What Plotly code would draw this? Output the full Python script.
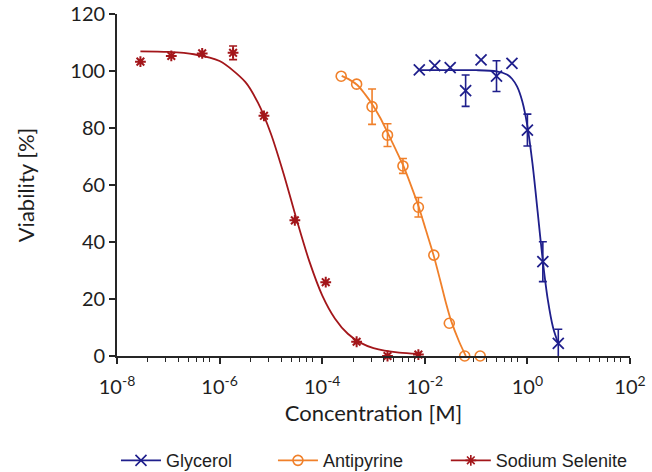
import plotly.graph_objects as go

# ---------------- data ----------------
glycerol_conc = [0.0078125, 0.015625, 0.03125, 0.0625, 0.125, 0.25, 0.5, 1.0, 2.0, 4.0]
glycerol_viab = [100.4, 101.9, 101.2, 93.1, 103.9, 98.2, 102.7, 79.3, 33.1, 4.4]
glycerol_err = [None, None, None, 5.5, None, 5.4, None, 5.6, 7.0, 5.0]

antipyrine_conc = [2.344e-4, 4.6875e-4, 9.375e-4, 1.875e-3, 3.75e-3, 7.5e-3, 0.015, 0.03, 0.06, 0.12]
antipyrine_viab = [98.2, 95.4, 87.5, 77.5, 66.7, 52.2, 35.4, 11.5, 0.0, 0.0]
antipyrine_err = [None, None, 6.2, 4.0, 2.6, 3.4, None, None, None, None]

selenite_conc = [2.861e-8, 1.144e-7, 4.578e-7, 1.831e-6, 7.324e-6, 2.930e-5, 1.172e-4, 4.688e-4, 1.875e-3, 7.5e-3]
selenite_viab = [103.3, 105.3, 106.2, 106.4, 84.3, 47.6, 25.9, 5.0, 0.0, 0.5]
selenite_err = [None, None, None, 2.4, None, None, None, None, None, None]

# fitted curves
glycerol_fit_conc = [7.76e-3, 0.0316, 0.1, 0.251, 0.398, 0.501, 0.631, 0.794, 1.0, 1.259, 1.585, 1.995, 2.512, 3.162, 4.0]
glycerol_fit_viab = [100.3, 100.3, 100.3, 99.9, 98.8, 97.3, 94.5, 89.4, 80.7, 67.4, 50.6, 33.4, 19.5, 10.0, 4.3]

antipyrine_fit_conc = [2.40e-4, 3.39e-4, 4.83e-4, 6.76e-4, 9.48e-4, 1.35e-3, 1.89e-3, 2.69e-3, 3.81e-3,
                       5.37e-3, 7.60e-3, 1.05e-2, 1.47e-2, 2.0e-2, 2.57e-2, 3.24e-2, 4.68e-2, 6.31e-2]
antipyrine_fit_viab = [98.3, 97.0, 95.1, 92.0, 88.3, 83.6, 78.3, 72.6, 66.8,
                       59.9, 52.4, 44.2, 35.6, 26.5, 18.8, 12.5, 5.0, 0.0]

selenite_fit_conc = [2.86e-8, 1e-7, 3.16e-7, 1e-6, 3.16e-6, 5.62e-6, 1e-5, 1.78e-5, 3.16e-5,
                     5.62e-5, 1e-4, 1.78e-4, 3.16e-4, 5.62e-4, 1e-3, 3.16e-3, 7.5e-3]
selenite_fit_viab = [106.9, 106.7, 105.9, 103.5, 96.2, 88.8, 78.0, 63.8, 48.0,
                     33.2, 21.3, 13.1, 7.8, 4.6, 2.8, 1.2, 0.8]

x_major_vals = [1e-8, 1e-6, 1e-4, 1e-2, 1e0, 1e2]
x_major_text = ["10<sup>-8</sup>", "10<sup>-6</sup>", "10<sup>-4</sup>",
                "10<sup>-2</sup>", "10<sup>0</sup>", "10<sup>2</sup>"]
minor_factors = [4, 9, 16, 25, 36, 49, 64]
x_minor_vals = [d * f for d in x_major_vals[:-1] for f in minor_factors]
y_tick_vals = [0, 20, 40, 60, 80, 100, 120]

# ---------------- style ----------------
NAVY = "#1f1f8c"
ORANGE = "#f0802a"
RED = "#a3161a"
AXC = "#262626"
TICKFONT = dict(family="Lato", size=20, color="#1e1e1e")
TITLEFONT = dict(family="Lato", size=22, color="#1e1e1e")
LEGFONT = dict(family="Liberation Sans", size=18, color="#1e1e1e")

series = [
    ("Glycerol", glycerol_conc, glycerol_viab, glycerol_err, glycerol_fit_conc, glycerol_fit_viab,
     NAVY, "x-thin-open", 11, 1.8, 11, "legend", -0.002),
    ("Antipyrine", antipyrine_conc, antipyrine_viab, antipyrine_err, antipyrine_fit_conc, antipyrine_fit_viab,
     ORANGE, "circle-open", 10, 1.6, 10, "legend2", 0.304),
    ("Sodium Selenite", selenite_conc, selenite_viab, selenite_err, selenite_fit_conc, selenite_fit_viab,
     RED, "asterisk-open", 9, 2.0, 9, "legend3", 0.641),
]

fig = go.Figure()
legend_layout = {}
for name, xc, yv, ye, fx, fy, col, sym, msize, mlw, lsize, leg, legx in series:
    # fitted curve
    fig.add_trace(go.Scatter(
        x=fx, y=fy, mode="lines", line=dict(color=col, width=1.8, shape="spline", smoothing=0.8),
        showlegend=False, hoverinfo="skip"))
    # error bars only where they exist
    ex = [c for c, e in zip(xc, ye) if e is not None]
    ey = [v for v, e in zip(yv, ye) if e is not None]
    ee = [e for e in ye if e is not None]
    fig.add_trace(go.Scatter(
        x=ex, y=ey, mode="markers", marker=dict(size=1, color=col, opacity=0),
        error_y=dict(type="data", array=ee, visible=True, color=col, thickness=1.6, width=4),
        showlegend=False, hoverinfo="skip", cliponaxis=False))
    # data points
    fig.add_trace(go.Scatter(
        x=xc, y=yv, mode="markers",
        marker=dict(symbol=sym, size=msize, color=col, line=dict(color=col, width=mlw)),
        showlegend=False, cliponaxis=False))
    # legend entry
    fig.add_trace(go.Scatter(
        x=[None], y=[None], mode="lines+markers", name=name, legend=leg, showlegend=True,
        line=dict(color=col, width=1.8),
        marker=dict(symbol=sym, size=lsize, color=col, line=dict(color=col, width=1.6))))
    legend_layout[leg] = dict(orientation="h", x=legx, xanchor="left", y=-0.306, yanchor="middle",
                              font=LEGFONT, itemwidth=40, bgcolor="rgba(0,0,0,0)")

fig.update_xaxes(
    type="log", range=[-8, 2],
    tickmode="array", tickvals=x_major_vals, ticktext=x_major_text,
    ticks="outside", ticklen=6, tickwidth=1.6, tickcolor=AXC,
    showline=True, linecolor=AXC, linewidth=1.8,
    showgrid=False, zeroline=False,
    minor=dict(tickmode="array", tickvals=x_minor_vals, ticks="outside", ticklen=4,
               tickwidth=1.4, tickcolor=AXC, showgrid=False),
    tickfont=TICKFONT, ticklabelstandoff=6,
    title=dict(text="Concentration [M]", font=TITLEFONT, standoff=9),
)
fig.update_yaxes(
    range=[0, 120.02], tickmode="array", tickvals=y_tick_vals,
    ticks="outside", ticklen=6, tickwidth=1.6, tickcolor=AXC,
    showline=True, linecolor=AXC, linewidth=1.8,
    showgrid=False, zeroline=False,
    tickfont=TICKFONT,
    title=dict(text="Viability [%]", font=TITLEFONT, standoff=30),
)
fig.update_layout(
    width=652, height=472,
    margin=dict(l=117, r=22, t=14, b=116, autoexpand=False),
    paper_bgcolor="white", plot_bgcolor="white",
    **legend_layout,
)

fig.write_html(
    "out.html",
    config={"displayModeBar": False},
    post_script="document.body.style.margin='0px';document.body.style.padding='0px';",
)
